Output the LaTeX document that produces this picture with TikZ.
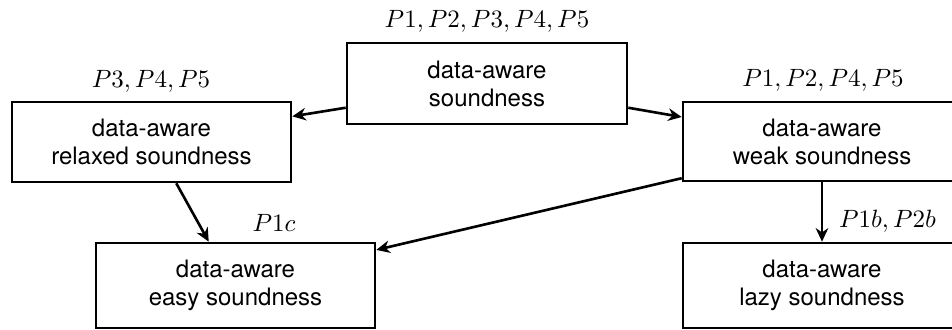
\documentclass[tikz,border=0pt]{standalone}
\usepackage{fontspec}
\setsansfont{TeX Gyre Heros}
\usetikzlibrary{arrows.meta,calc}
\begin{document}
\begin{tikzpicture}[x=0.4pt,y=-0.4pt,
  box/.style={draw, line width=1.05pt, inner sep=0pt, align=center,
    font=\sffamily\fontsize{9.6pt}{11.2pt}\selectfont,
    minimum width=111.6pt, minimum height=32pt},
  prop/.style={anchor=base, inner sep=0pt, font=\fontsize{10pt}{12pt}\selectfont},
  arr/.style={line width=1.05pt, -{Stealth[length=5.4pt,width=5pt,inset=1.7pt]}}]
  \useasboundingbox (0,0) rectangle (952,330);

  % boxes
  \node[box, minimum width=112pt, minimum height=32.4pt] (S) at (487,83.5) {data-aware\\soundness};
  \node[box] (R) at (151.5,142) {data-aware\\relaxed soundness};
  \node[box, minimum width=111.2pt, minimum height=31.6pt] (W) at (822,141.5) {data-aware\\weak soundness};
  \node[box, minimum height=34pt] (E) at (235.5,285.5) {data-aware\\easy soundness};
  \node[box, minimum width=111.2pt, minimum height=34pt] (L) at (822,285.5) {data-aware\\lazy soundness};

  % property labels
  \node[prop] (lS) at (487,28) {$P1, P2, P3, P4, P5$};
  \node[prop] (lR) at (151,88) {$P3, P4, P5$};
  \node[prop] (lW) at (823,87) {$P1, P2, P4, P5$};
  \node[prop] (lE) at (274,232) {$P1c$};
  \node[prop] (lL) at (887.5,228) {$P1b, P2b$};

  % implications
  \draw[arr] ($(S.north west)!0.79!(S.south west)$) -- ($(R.north east)!0.19!(R.south east)$);
  \draw[arr] ($(S.north east)!0.79!(S.south east)$) -- ($(W.north west)!0.2!(W.south west)$);
  \draw[arr] ($(R.south west)!0.588!(R.south east)$) -- ($(E.north west)!0.405!(E.north east)$);
  \draw[arr] ($(W.north west)!0.95!(W.south west)$) -- ($(E.north east)!0.094!(E.south east)$);
  \draw[arr] (W.south) -- (L.north);
\end{tikzpicture}
\end{document}
